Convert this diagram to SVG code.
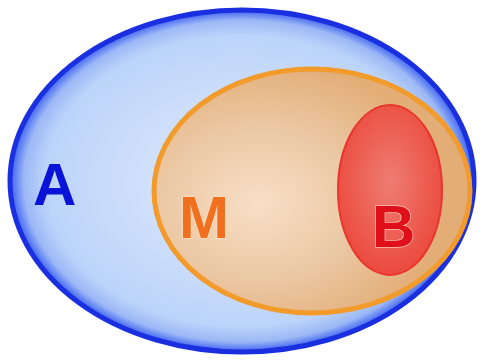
<svg xmlns="http://www.w3.org/2000/svg" width="485" height="361" viewBox="0 0 485 361">
<defs>
<radialGradient id="gA" cx="0.5" cy="0.5" r="0.5">
<stop offset="0" stop-color="#e4ecfc"/>
<stop offset="0.85" stop-color="#bcd4fa"/>
<stop offset="0.94" stop-color="#9cb8f6"/>
<stop offset="1" stop-color="#3a5ff0"/>
</radialGradient>
<radialGradient id="gM" cx="0.33" cy="0.55" r="0.6">
<stop offset="0" stop-color="#f9dfc6"/>
<stop offset="0.5" stop-color="#ecc9a6"/>
<stop offset="1" stop-color="#e2ad76"/>
</radialGradient>
<radialGradient id="gB" cx="0.5" cy="0.45" r="0.55">
<stop offset="0" stop-color="#ee7d72"/>
<stop offset="1" stop-color="#ec4a3e"/>
</radialGradient>
<style>
.lbl{font-family:"Liberation Sans",Arial,sans-serif;font-weight:bold;font-size:60px;}
</style>
</defs>
<rect width="485" height="361" fill="#ffffff"/>
<g id="A">
<ellipse cx="242" cy="181" rx="232" ry="171" fill="url(#gA)" stroke="#1a2fe0" stroke-width="5"/>
<text class="lbl" x="33" y="205" fill="#0a14d8">A</text>
</g>
<g id="M">
<ellipse cx="312" cy="191" rx="158" ry="122" fill="url(#gM)" stroke="#f29a2a" stroke-width="5"/>
<text class="lbl" x="179" y="238" fill="#f07020" stroke="#fde2c4" stroke-width="1.2" paint-order="stroke">M</text>
</g>
<g id="B">
<ellipse cx="390" cy="190" rx="52" ry="85" fill="url(#gB)" stroke="#e8362c" stroke-width="2"/>
<text class="lbl" x="372" y="247" fill="#e0101a" stroke="#f8c0b0" stroke-width="1.5" paint-order="stroke">B</text>
</g>
<g id="connectors"/>
</svg>
